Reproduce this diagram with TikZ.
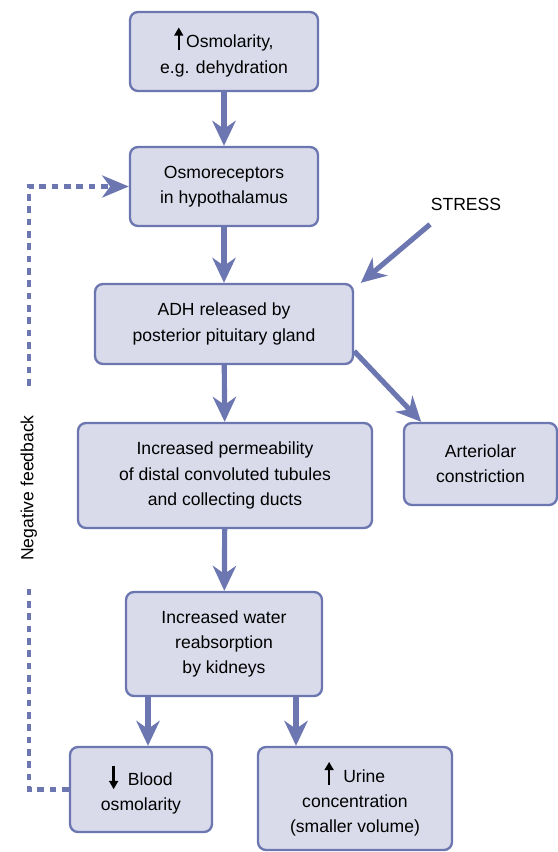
\documentclass[tikz,border=0pt]{standalone}
\usepackage{fontspec}
\setmainfont{Liberation Sans}
\usetikzlibrary{arrows.meta}

\definecolor{boxfill}{RGB}{217,219,234}
\definecolor{boxline}{RGB}{108,118,176}

% tall black arrows in front of a label
\newcommand{\uparr}{\tikz[baseline=0pt]\draw[black,line width=2.1pt,-{Triangle[length=7pt,width=7.5pt]}] (0,-2pt) -- (0,17.5pt);}
\newcommand{\downarr}{\tikz[baseline=0pt]\draw[black,line width=2.1pt,-{Triangle[length=7pt,width=7.5pt]}] (0,17pt) -- (0,-3pt);}

\begin{document}
\begin{tikzpicture}[box/.style={rectangle,rounded corners=0.24cm,draw=boxline,fill=boxfill,line width=2pt,align=center,font=\fontsize{15}{21.5}\selectfont,inner sep=2pt},
	flow/.style={draw=boxline,line width=4.4pt,-{Stealth[length=0.75cm,width=0.7cm,inset=0.24cm]}},
	feedback/.style={draw=boxline,line width=3.6pt,dash pattern=on 0.2cm off 0.17cm,-{Stealth[length=0.8cm,width=0.66cm,inset=0.24cm]}}]

		\useasboundingbox (0,0) rectangle (16.74,-25.56);

		\node[box,minimum width=5.64cm,minimum height=2.37cm] (osm) at (6.72,-1.545) {\uparr\,Osmolarity,\\e.g. dehydration};
		\node[box,minimum width=5.64cm,minimum height=2.37cm] (rec) at (6.72,-5.595) {Osmoreceptors\\in hypothalamus};
		\node[box,minimum width=7.74cm,minimum height=2.4cm] (adh) at (6.72,-9.72) {ADH released by\\posterior pituitary gland};
		\node[box,minimum width=8.82cm,minimum height=3.15cm] (perm) at (6.75,-14.265) {Increased permeability\\of distal convoluted tubules\\and collecting ducts};
		\node[box,minimum width=4.59cm,minimum height=2.46cm] (art) at (14.415,-13.92) {Arteriolar\\constriction};
		\node[box,minimum width=5.88cm,minimum height=3.12cm] (kid) at (6.72,-19.32) {Increased water\\reabsorption\\by kidneys};
		\node[box,minimum width=4.26cm,minimum height=2.55cm] (blood) at (4.23,-23.685) {\downarr\ \ Blood\\osmolarity};
		\node[box,minimum width=5.82cm,minimum height=3.09cm] (urine) at (10.65,-23.955) {\uparr\ \ Urine\\concentration\\(smaller volume)};
		\node[font=\fontsize{15}{21}\selectfont] (stress) at (13.98,-6.12) {STRESS};

		\draw[flow] (osm) -- (rec);
		\draw[flow] (rec) -- (adh);
		\draw[flow] (adh) -- (perm);
		\draw[flow] (perm) -- (kid);
		\draw[flow] ([xshift=-2.28cm]kid.south) -- ([xshift=-2.28cm]kid.south |- blood.north);
		\draw[flow] ([xshift=2.16cm]kid.south) -- ([xshift=2.16cm]kid.south |- urine.north);
		\draw[flow] ([yshift=0.42cm]adh.south east) -- ([xshift=0.55cm]art.north west);
		\draw[flow] ([shift={(0.1,-0.3)}]stress.south west) -- ([xshift=0.2cm]adh.north east);

		% negative feedback loop back to the osmoreceptors
		\draw[feedback] (blood.west) -- ++(-1.2,0) coordinate (fb) |- node[pos=0.25,fill=white,rotate=90,inner xsep=0.8cm,font=\fontsize{15}{21}\selectfont] {Negative feedback} (rec.west);
		\end{tikzpicture}
\end{document}
